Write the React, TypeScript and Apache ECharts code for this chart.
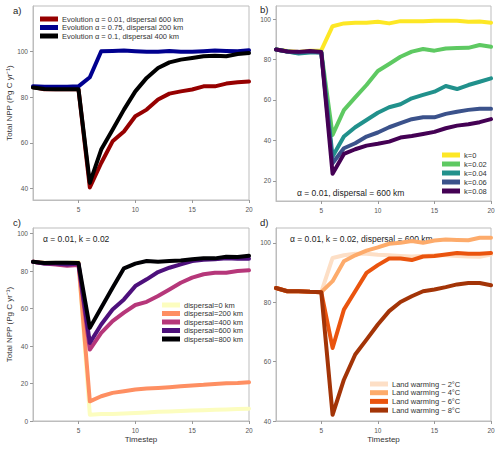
import React, { useEffect, useRef } from "react";
import * as echarts from "echarts";

const timesteps = [1, 2, 3, 4, 5, 6, 7, 8, 9, 10, 11, 12, 13, 14, 15, 16, 17, 18, 19, 20];
const xTicks = [5, 10, 15, 20];

// Panel a: evolution scenarios
const evoNames = [
  "Evolution α = 0.01, dispersal 600 km",
  "Evolution α = 0.75, dispersal 200 km",
  "Evolution α = 0.1, dispersal 400 km",
];
const evoA001 = [84.5, 83.5, 83.5, 83.5, 83.5, 40.5, 51.2, 60.7, 65, 71.7, 74.6, 79, 81.6, 82.6, 83.4, 84.8, 84.8, 86, 86.6, 86.9];
const evoA075 = [84.8, 84.6, 84.6, 84.6, 84.8, 88.8, 100.2, 100.3, 100.5, 100.2, 100, 100, 100.3, 100, 100, 100.2, 100.5, 100.3, 100.2, 100.6];
const evoA01 = [84.3, 83.6, 83.5, 83.5, 83.5, 42.5, 57.1, 65.8, 74.6, 82.6, 88.5, 92.8, 95.3, 96.5, 97.2, 98, 98.2, 98, 99, 99.4];
const evoColors = ["#960000", "#00008f", "#000000"];
const yTicksA = [40, 60, 80, 100];

// Panel b: k sweep
const kNames = ["k=0", "k=0.02", "k=0.04", "k=0.06", "k=0.08"];
const k0 = [85, 84.2, 83.8, 84.3, 84.5, 96.5, 97.9, 98.2, 98.2, 98.7, 97.9, 99, 99, 99, 99.2, 99.2, 99.2, 98.7, 98.8, 98.2];
const k002 = [85, 84, 83.2, 83.8, 83.8, 42.7, 55, 61.3, 67.4, 74.3, 77.8, 81.4, 83.9, 85.2, 84.4, 85.5, 85.7, 85.8, 87.2, 86.3];
const k004 = [85, 84, 83, 83.5, 83.5, 32, 41.9, 46.5, 50.1, 53.7, 56.4, 57.9, 60.8, 62.5, 64.1, 66.9, 65.4, 67.4, 69, 70.7];
const k006 = [85, 84, 83.5, 84, 83.5, 28.7, 36.1, 38.6, 41.9, 43.9, 46.5, 48.5, 50.5, 51.4, 51.4, 53.1, 54.2, 55.1, 55.7, 55.6];
const k008 = [85, 84, 83.8, 84.2, 83.8, 23.5, 33.3, 35.6, 37.4, 38.3, 39.4, 41.4, 42.2, 43.2, 44.2, 46, 47.3, 48, 49, 50.5];
const kColors = ["#fde725", "#5ec962", "#21918c", "#3b528b", "#440154"];
const yTicksB = [20, 40, 60, 80, 100];

// Panel c: dispersal sweep
const dispNames = ["dispersal=0 km", "dispersal=200 km", "dispersal=400 km", "dispersal=600 km", "dispersal=800 km"];
const disp0 = [85, 84.5, 84.5, 84.5, 84.8, 3.4, 3.7, 3.8, 4, 4.3, 4.6, 4.9, 5.1, 5.4, 5.6, 5.8, 6, 6.2, 6.4, 6.6];
const disp200 = [85, 84.3, 84.3, 84, 84.3, 10.5, 13.2, 15, 15.9, 16.8, 17.3, 17.6, 18, 18.5, 19, 19.3, 19.8, 20.1, 20.3, 20.7];
const disp400 = [85, 84, 83.5, 82.8, 83.2, 38.1, 47, 53.3, 57.8, 61.9, 63.6, 66.7, 70.2, 73.8, 76.5, 78.3, 79.1, 79.1, 80, 80.4];
const disp600 = [85, 84, 84, 83.5, 84, 41.7, 51.5, 59.5, 64.9, 72, 75.6, 79.5, 81.8, 83.6, 85.4, 86.1, 86.3, 86.8, 86.6, 86.6];
const disp800 = [85, 84.3, 84.5, 84.5, 84.3, 49.7, 60.4, 71.1, 81.5, 84, 85.4, 85, 85.4, 85.7, 86.3, 86.8, 86.8, 87.7, 87.5, 88.2];
const dispColors = ["#fcfdbf", "#fe8f62", "#b6377a", "#4d107c", "#000004"];
const yTicksC = [0, 20, 40, 60, 80, 100];

// Panel d: land warming
const warmNames = ["Land warming ~ 2°C", "Land warming ~ 4°C", "Land warming ~ 6°C", "Land warming ~ 8°C"];
const warm2 = [84.8, 83.7, 83.7, 83.5, 83.4, 94.9, 95.8, 96.3, 96.3, 96, 95.8, 95.6, 95.4, 95.6, 95.8, 95.8, 95.6, 95.4, 95.3, 96.1];
const warm4 = [84.8, 83.7, 83.7, 83.5, 83.4, 87.1, 93.8, 95.8, 97.4, 98.5, 99.7, 100, 100.6, 100, 100.8, 101.1, 101, 100.9, 101.7, 101.7];
const warm6 = [84.8, 83.7, 83.7, 83.5, 83.4, 64.6, 77.5, 83.7, 89.9, 92.5, 94.7, 94.7, 94.2, 95.4, 95.6, 96.1, 96.6, 96.3, 96.3, 96.6];
const warm8 = [84.8, 83.7, 83.7, 83.5, 83.4, 42.1, 53.9, 62.4, 67.4, 72.5, 77, 80.1, 82, 83.7, 84.3, 85.1, 86, 86.5, 86.5, 85.7];
const warmColors = ["#fddfc6", "#fdab6b", "#ea540e", "#a33407"];
const yTicksD = [40, 60, 80, 100];

const FONT = "Liberation Sans, Arial, sans-serif";
const AXIS_GRAY = "#bdbdbd";
const LABEL_GRAY = "#555";

function lineSeries(name: string, values: number[], color: string, idx: number) {
  return {
    type: "line",
    name,
    xAxisIndex: idx,
    yAxisIndex: idx,
    data: timesteps.map((t, i) => [t, values[i]]),
    showSymbol: false,
    symbol: "none",
    lineStyle: { color, width: 4, cap: "round", join: "round" },
    itemStyle: { color },
    emphasis: { disabled: true },
  };
}

function xAxis(idx: number, withName: boolean) {
  return {
    type: "value",
    gridIndex: idx,
    min: 1,
    max: 20,
    name: withName ? "Timestep" : "",
    nameLocation: "middle",
    nameGap: 14,
    nameTextStyle: { fontFamily: FONT, fontSize: 8, color: "#333" },
    axisLine: { show: true, lineStyle: { color: AXIS_GRAY, width: 1 } },
    axisTick: { show: true, length: 3, lineStyle: { color: "#999" }, customValues: xTicks },
    axisLabel: { fontFamily: FONT, fontSize: 6.5, color: LABEL_GRAY, margin: 6, customValues: xTicks },
    splitLine: { show: false },
  };
}

function yAxis(idx: number, min: number, max: number, ticks: number[], withName: boolean) {
  return {
    type: "value",
    gridIndex: idx,
    min,
    max,
    name: withName ? "Total NPP (Pg C yr⁻¹)" : "",
    nameLocation: "middle",
    nameRotate: 90,
    nameGap: 20,
    nameTextStyle: { fontFamily: FONT, fontSize: 8, color: "#333" },
    axisLine: { show: true, lineStyle: { color: AXIS_GRAY, width: 1 } },
    axisTick: { show: true, length: 3, lineStyle: { color: "#999" }, customValues: ticks },
    axisLabel: { fontFamily: FONT, fontSize: 6.5, color: LABEL_GRAY, margin: 5, customValues: ticks },
    splitLine: { show: false },
  };
}

function legend(names: string[], left: number, top: number, gap: number) {
  return {
    data: names,
    orient: "vertical",
    left,
    top,
    padding: 0,
    itemGap: gap,
    itemWidth: 18,
    itemHeight: 5,
    icon: "rect",
    selectedMode: false,
    textStyle: { fontFamily: FONT, fontSize: 7.5, color: "#333", lineHeight: 8, padding: [0, 0, 0, -1] },
  };
}

function label(text: string, x: number, y: number, size: number) {
  return {
    type: "text",
    x,
    y,
    silent: true,
    style: { text, fontFamily: FONT, fontSize: size, fill: "#222", align: "left", verticalAlign: "middle" },
  };
}

export default function App() {
  const ref = useRef<HTMLDivElement>(null);

  useEffect(() => {
    if (!ref.current) return;
    const chart = echarts.init(ref.current, undefined, { renderer: "svg" });
    const gridBase = { show: true, borderColor: AXIS_GRAY, borderWidth: 1, containLabel: false };
    chart.setOption({
      animation: false,
      grid: [
        { ...gridBase, left: 33, top: 6, width: 216, height: 194 },
        { ...gridBase, left: 276, top: 6, width: 215, height: 195 },
        { ...gridBase, left: 33, top: 228, width: 216, height: 193 },
        { ...gridBase, left: 276, top: 228, width: 215, height: 193 },
      ],
      xAxis: [xAxis(0, false), xAxis(1, false), xAxis(2, true), xAxis(3, true)],
      yAxis: [
        yAxis(0, 35, 120, yTicksA, true),
        yAxis(1, 10, 106.5, yTicksB, false),
        yAxis(2, 0, 103, yTicksC, true),
        yAxis(3, 40, 105, yTicksD, false),
      ],
      legend: [
        legend(evoNames, 40, 15, 0.5),
        legend(kNames, 442, 151, 1),
        legend(dispNames, 162, 301, 0.5),
        legend(warmNames, 370, 380, 0.7),
      ],
      graphic: [
        label("a)", 13, 10, 9.5),
        label("b)", 260, 9, 9.5),
        label("c)", 13, 222, 9.5),
        label("d)", 260, 222, 9.5),
        label("α = 0.01, dispersal = 600 km", 297, 193, 8.5),
        label("α = 0.01, k = 0.02", 43, 239, 8.5),
        label("α = 0.01, k = 0.02, dispersal = 600 km", 290, 239, 8.5),
      ],
      series: [
        lineSeries(evoNames[0], evoA001, evoColors[0], 0),
        lineSeries(evoNames[1], evoA075, evoColors[1], 0),
        lineSeries(evoNames[2], evoA01, evoColors[2], 0),
        lineSeries(kNames[0], k0, kColors[0], 1),
        lineSeries(kNames[1], k002, kColors[1], 1),
        lineSeries(kNames[2], k004, kColors[2], 1),
        lineSeries(kNames[3], k006, kColors[3], 1),
        lineSeries(kNames[4], k008, kColors[4], 1),
        lineSeries(dispNames[0], disp0, dispColors[0], 2),
        lineSeries(dispNames[1], disp200, dispColors[1], 2),
        lineSeries(dispNames[2], disp400, dispColors[2], 2),
        lineSeries(dispNames[3], disp600, dispColors[3], 2),
        lineSeries(dispNames[4], disp800, dispColors[4], 2),
        lineSeries(warmNames[0], warm2, warmColors[0], 3),
        lineSeries(warmNames[1], warm4, warmColors[1], 3),
        lineSeries(warmNames[2], warm6, warmColors[2], 3),
        lineSeries(warmNames[3], warm8, warmColors[3], 3),
      ],
    });
    return () => chart.dispose();
  }, []);

  return (
    <div
      ref={ref}
      style={{ position: "fixed", left: 0, top: 0, width: 500, height: 450, background: "#fff" }}
    />
  );
}
